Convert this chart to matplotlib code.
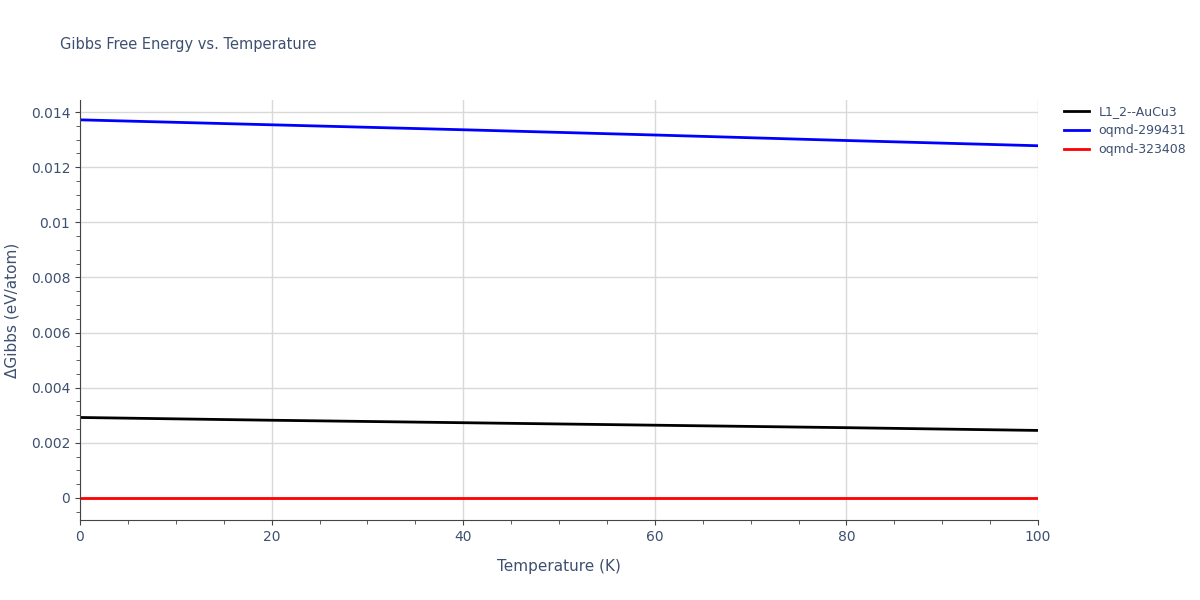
import matplotlib
matplotlib.use("Agg")
import matplotlib.pyplot as plt
from matplotlib.ticker import MultipleLocator

temps = [0, 20, 40, 60, 80, 100]
l12 = [0.00292, 0.00282, 0.00273, 0.00264, 0.00255, 0.00245]
oq299431 = [0.01372, 0.01354, 0.01336, 0.01317, 0.01297, 0.01278]
oq323408 = [0, 0, 0, 0, 0, 0]
names = ["L1_2--AuCu3", "oqmd-299431", "oqmd-323408"]
colors = ["black", "blue", "red"]
tc = "#3e5070"

fig = plt.figure(figsize=(12, 6), dpi=100)
ax = fig.add_axes([80/1200, 1-520/600, (1038-80)/1200, 420/600])
for y, n, c in zip([l12, oq299431, oq323408], names, colors):
    ax.plot(temps, y, color=c, lw=2, label=n)
ax.set_xlim(0, 100)
ax.set_ylim(-0.0008, 0.01444)
ax.xaxis.set_major_locator(MultipleLocator(20))
ax.xaxis.set_minor_locator(MultipleLocator(5))
ax.yaxis.set_minor_locator(MultipleLocator(0.0005))
ax.grid(True, which="major", color="#d9d9d9", lw=1)
ax.set_axisbelow(True)
for s in ["top", "right"]:
    ax.spines[s].set_visible(False)
ax.spines["left"].set_color("#444")
ax.spines["bottom"].set_color("#444")
ax.tick_params(colors=tc, labelsize=10)
ax.tick_params(axis="both", which="both", color="#444")
ax.tick_params(which="minor", length=3)
ax.set_yticks([0, 0.002, 0.004, 0.006, 0.008, 0.01, 0.012, 0.014])
ax.set_yticklabels(["0", "0.002", "0.004", "0.006", "0.008", "0.01", "0.012", "0.014"])
ax.set_xlabel("Temperature (K)", color=tc, fontsize=11, labelpad=11)
ax.set_ylabel("ΔGibbs (eV/atom)", color=tc, fontsize=11, labelpad=8)
fig.text(60/1200, 1-45/600, "Gibbs Free Energy vs. Temperature", color=tc, fontsize=10.5, va="center")
ax.legend(loc="upper left", bbox_to_anchor=(1.015, 1.015), frameon=False, fontsize=9,
          labelcolor=tc, handlelength=2)
fig.savefig("out.png")
